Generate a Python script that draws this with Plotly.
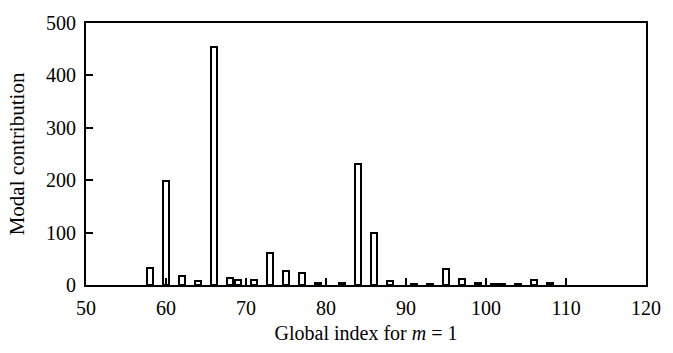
import plotly.graph_objects as go

# Global index (m = 1) and modal contribution
indices = [58, 60, 62, 64, 66, 68, 69, 71, 73, 75, 77, 79, 82, 84, 86, 88,
           91, 93, 95, 97, 99, 101, 102, 104, 106, 108]
contrib = [32, 198, 18, 7, 455, 14, 10, 9, 62, 27, 23, 4, 3, 230, 100, 8,
           2, 2, 31, 12, 3, 1, 1, 1, 9, 4]

x_ticks = [50, 60, 70, 80, 90, 100, 110, 120]
y_ticks = [0, 100, 200, 300, 400, 500]

font_family = "Liberation Serif, Times New Roman, serif"

fig = go.Figure()
fig.add_trace(go.Bar(
    x=indices, y=contrib, width=0.75,
    marker=dict(color="white", line=dict(color="black", width=2)),
    showlegend=False,
))

fig.update_layout(
    width=673, height=353,
    margin=dict(l=86, r=18, t=13, b=66),
    paper_bgcolor="white", plot_bgcolor="white",
    font=dict(family=font_family, size=20, color="black"),
    bargap=0,
)
fig.update_xaxes(
    range=[50, 120], tickvals=x_ticks, ticktext=[str(v) for v in x_ticks],
    ticks="inside", ticklen=7, tickwidth=1.5, tickcolor="black",
    ticklabelstandoff=4,
    showline=True, linewidth=2, linecolor="black", mirror=True,
    showgrid=False, zeroline=False,
    title=dict(text="Global index for <i>m</i> = 1", standoff=8,
               font=dict(size=20)),
    tickfont=dict(size=20),
)
fig.update_yaxes(
    range=[0, 500], tickvals=y_ticks, ticktext=[str(v) for v in y_ticks],
    ticks="inside", ticklen=7, tickwidth=1.5, tickcolor="black",
    ticklabelstandoff=4,
    showline=True, linewidth=2, linecolor="black", mirror=True,
    showgrid=False, zeroline=False,
    title=dict(text="Modal contribution", standoff=16, font=dict(size=21)),
    tickfont=dict(size=20),
)

fig.write_html("out.html")
